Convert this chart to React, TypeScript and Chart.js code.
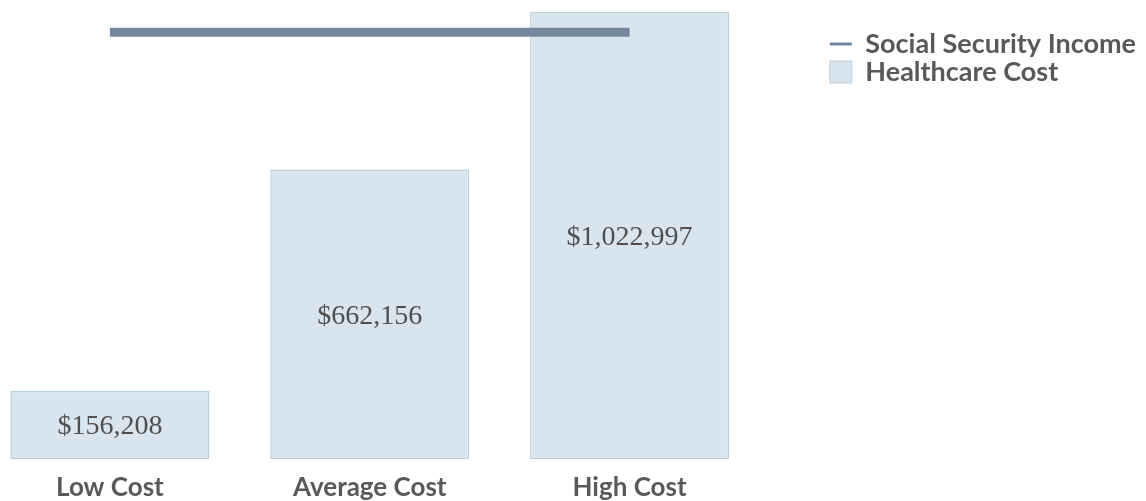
import React, { useEffect, useRef } from "react";
import { Chart, registerables } from "chart.js";

Chart.register(...registerables);

const categories = ["Low Cost", "Average Cost", "High Cost"];
const healthcareCost = [156208, 662156, 1022997];
const socialSecurityIncome = [976000, 976000, 976000];
const valueLabels = ["$156,208", "$662,156", "$1,022,997"];
const seriesNames = ["Social Security Income", "Healthcare Cost"];

const LINE_COLOR = "#75879e";
const BAR_FILL = "#d9e5ee";
const BAR_BORDER = "#bccfdc";
const TEXT_COLOR = "#595959";
const SANS = "Lato, 'Open Sans', sans-serif";

const CANVAS_W = 1166;
const CANVAS_H = 501;
const TARGET_RIGHT = 779.5;

const valueLabelPlugin = {
  id: "valueLabels",
  afterDatasetsDraw(chart: any) {
    const meta = chart.getDatasetMeta(1);
    const ctx = chart.ctx;
    ctx.save();
    ctx.font = "28px 'Liberation Serif', serif";
    ctx.fillStyle = "#4f4f4f";
    ctx.textAlign = "center";
    ctx.textBaseline = "middle";
    meta.data.forEach((bar: any, i: number) => {
      const y = (bar.y + bar.base) / 2 + 2;
      ctx.fillText(valueLabels[i], bar.x, y);
    });
    ctx.restore();
  },
};

export default function App() {
  const ref = useRef<HTMLCanvasElement | null>(null);

  useEffect(() => {
    if (!ref.current) return;
    const chart = new Chart(ref.current, {
      type: "bar",
      data: {
        labels: categories,
        datasets: [
          {
            type: "line",
            label: seriesNames[0],
            data: socialSecurityIncome,
            borderColor: LINE_COLOR,
            backgroundColor: LINE_COLOR,
            borderWidth: 9,
            borderCapStyle: "butt",
            pointRadius: 0,
            pointHoverRadius: 0,
            order: 0,
          } as any,
          {
            type: "bar",
            label: seriesNames[1],
            data: healthcareCost,
            backgroundColor: BAR_FILL,
            borderColor: BAR_BORDER,
            borderWidth: 1.5,
            borderSkipped: false,
            categoryPercentage: 1,
            barPercentage: 0.766,
            order: 1,
          } as any,
        ],
      },
      options: {
        responsive: false,
        animation: false,
        layout: { padding: 0 },
        plugins: {
          tooltip: { enabled: false },
          legend: {
            display: true,
            position: "right",
            align: "start",
            maxWidth: 420,
            title: { display: true, text: "", padding: { top: 17.5, bottom: 0 }, font: { size: 10 } },
            labels: {
              usePointStyle: true,
              boxHeight: 22,
              pointStyleWidth: 22,
              padding: 1,
              color: TEXT_COLOR,
              font: { family: SANS, size: 27, weight: "bold" },
              generateLabels: (c: any) => [
                {
                  text: c.data.datasets[0].label,
                  fillStyle: LINE_COLOR,
                  strokeStyle: LINE_COLOR,
                  lineWidth: 3,
                  pointStyle: "line",
                  datasetIndex: 0,
                  hidden: false,
                  fontColor: TEXT_COLOR,
                },
                {
                  text: c.data.datasets[1].label,
                  fillStyle: BAR_FILL,
                  strokeStyle: BAR_BORDER,
                  lineWidth: 1,
                  pointStyle: "rect",
                  datasetIndex: 1,
                  hidden: false,
                  fontColor: TEXT_COLOR,
                },
              ],
            },
          },
        },
        scales: {
          x: {
            offset: true,
            grid: { display: false, drawTicks: false },
            border: { display: false },
            ticks: {
              padding: 13,
              color: TEXT_COLOR,
              font: { family: SANS, size: 26, weight: "bold" },
            },
            afterFit: (scale: any) => {
              scale.height = 42;
            },
          },
          y: {
            position: "right",
            min: 0,
            max: 1050000,
            grid: { display: false, drawTicks: false },
            border: { display: false },
            ticks: { display: false },
            afterFit: (scale: any) => {
              const lw = scale.chart.legend ? scale.chart.legend.width : 0;
              scale.width = Math.max(0, CANVAS_W - lw - TARGET_RIGHT);
            },
          },
        },
      },
      plugins: [valueLabelPlugin],
    });
    return () => chart.destroy();
  }, []);

  return (
    <div style={{ position: "absolute", left: -20, top: 0, width: CANVAS_W, height: CANVAS_H, background: "#fff" }}>
      <canvas ref={ref} width={CANVAS_W} height={CANVAS_H} />
    </div>
  );
}
